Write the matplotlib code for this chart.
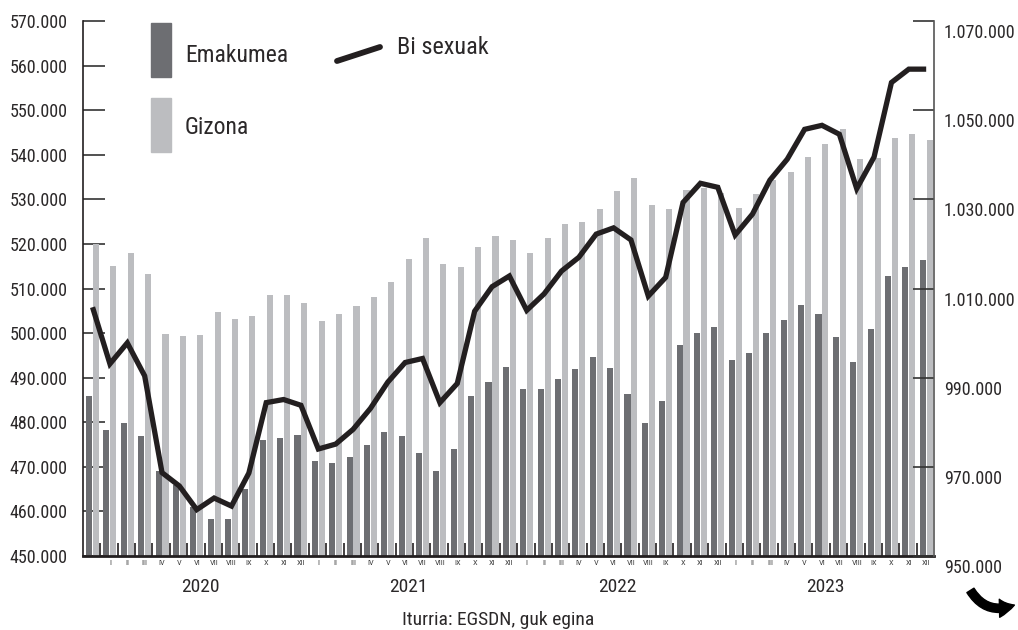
import numpy as np
import matplotlib
matplotlib.use('Agg')
import matplotlib.pyplot as plt
from matplotlib.patches import Rectangle, FancyArrowPatch
from matplotlib.lines import Line2D
from matplotlib.ticker import FuncFormatter
import matplotlib.transforms as mtransforms

plt.rcParams['font.family'] = ['Roboto Condensed', 'PT Sans Narrow', 'Roboto', 'DejaVu Sans']

# Data (thousands of persons), Dec 2019 .. Dec 2023
emakumea = [486.0, 478.3, 479.9, 476.9, 469.1, 466.0, 461.0, 458.4, 458.4, 465.1,
            476.0, 476.5, 477.1, 471.3, 470.9, 472.2, 474.9, 477.8, 476.9, 473.1,
            469.1, 474.0, 485.9, 489.0, 492.4, 487.5, 487.5, 489.7, 491.9, 494.6,
            492.2, 486.3, 479.8, 484.8, 497.3, 500.0, 501.4, 494.0, 495.5, 500.0,
            502.9, 506.3, 504.3, 499.1, 493.5, 500.9, 512.8, 514.8, 516.4]
gizona = [520.0, 515.1, 518.0, 513.3, 499.8, 499.3, 499.6, 504.8, 503.2, 503.8,
          508.5, 508.5, 506.8, 502.7, 504.3, 506.1, 508.1, 511.5, 516.6, 521.3,
          515.5, 514.8, 519.3, 521.8, 520.9, 518.0, 521.3, 524.5, 525.0, 527.8,
          531.9, 534.8, 528.7, 527.8, 532.1, 532.5, 531.4, 528.1, 531.2, 534.3,
          536.1, 539.5, 542.4, 545.8, 539.1, 539.3, 543.8, 544.7, 543.3]
bi_sexuak = [1005.8, 993.1, 997.8, 990.4, 968.7, 965.7, 960.4, 963.0, 961.2, 968.6,
             984.4, 985.1, 983.8, 974.0, 975.1, 978.4, 983.1, 989.0, 993.4, 994.3,
             984.4, 988.7, 1004.9, 1010.4, 1012.8, 1005.1, 1008.8, 1013.9, 1017.0, 1022.2,
             1023.6, 1020.9, 1008.3, 1012.5, 1029.3, 1033.6, 1032.7, 1022.0, 1026.7, 1034.3,
             1039.0, 1045.7, 1046.6, 1044.6, 1032.4, 1039.5, 1056.2, 1059.2, 1059.2]
months = ['I', 'II', 'III', 'IV', 'V', 'VI', 'VII', 'VIII', 'IX', 'X', 'XI', 'XII']
years = ['2020', '2021', '2022', '2023']

dark = '#6d6e72'
light = '#bcbdc0'
black = '#231f20'
txt = '#2b2829'

fig = plt.figure(figsize=(10.18, 6.30), dpi=100)
ax = fig.add_axes([83 / 1018, 74 / 630, 851 / 1018, 535 / 630])

n = len(emakumea)
x = np.arange(n) + 0.05
ax.bar(x - 0.2, emakumea, width=0.35, color=dark, zorder=2)
ax.bar(x + 0.2, gizona, width=0.35, color=light, zorder=2)
ax.set_xlim(-0.5, n - 0.5)
ax.set_ylim(450, 570)
ax.set_yticks(np.arange(450, 571, 10))
ax.yaxis.set_major_formatter(FuncFormatter(lambda v, p: f"{int(round(v * 1000)):,}".replace(',', '.')))
ax.tick_params(axis='y', direction='in', length=16, width=1.2, color='#333333',
               labelsize=13, labelcolor=txt, pad=11)

# slot boundaries as ticks, month names under the bars
ax.set_xticks(np.arange(n - 1) + 0.5)
ax.set_xticklabels([])
ax.tick_params(axis='x', which='major', direction='in', length=9.5, width=1.2, color=black)
ax.set_xticks(x[1:], minor=True)
ax.set_xticklabels(months * len(years), minor=True)
ax.tick_params(axis='x', which='minor', length=0, labelsize=6, labelcolor='#444444', pad=3)

for k, yr in enumerate(years):
    ax.text(12 * k + 6.25, -0.058, yr, transform=ax.get_xaxis_transform(),
            ha='center', va='center', fontsize=14, color=txt)

ax.spines['top'].set_visible(False)
ax.spines['right'].set_visible(False)
ax.spines['left'].set_color(black)
ax.spines['left'].set_linewidth(1.2)
ax.spines['bottom'].set_color(black)
ax.spines['bottom'].set_linewidth(2)

ax2 = ax.twinx()
ax2.plot(x, bi_sexuak, color=black, lw=3.8, solid_joinstyle='miter', solid_capstyle='butt', zorder=3)
ax2.set_ylim(950, 1070)
ax2.set_yticks(np.arange(950, 1071, 20))
ax2.yaxis.set_major_formatter(FuncFormatter(lambda v, p: f"{int(round(v * 1000)):,}".replace(',', '.')))
ax2.tick_params(axis='y', direction='in', length=15, width=1.2, color='#333333',
                labelsize=13, labelcolor=txt, pad=7)
for side in ['top', 'left', 'bottom']:
    ax2.spines[side].set_visible(False)
ax2.spines['right'].set_color('#555555')
ax2.spines['right'].set_linewidth(1.2)
shift = mtransforms.ScaledTranslation(0, -10 / 100, fig.dpi_scale_trans)
for lab in ax2.get_yticklabels():
    lab.set_transform(lab.get_transform() + shift)

# legend drawn by hand
W, H = 1018, 630
fig.patches.append(Rectangle((151 / W, 1 - 77 / H), 20 / W, 54 / H, transform=fig.transFigure,
                             color=dark, figure=fig))
fig.patches.append(Rectangle((151 / W, 1 - 152 / H), 20 / W, 54 / H, transform=fig.transFigure,
                             color=light, figure=fig))
fig.text(185 / W, 1 - 55 / H, 'Emakumea', fontsize=17, color=txt, va='center', ha='left')
fig.text(185 / W, 1 - 128 / H, 'Gizona', fontsize=17, color=txt, va='center', ha='left')
fig.lines.append(Line2D([337 / W, 380 / W], [1 - 61 / H, 1 - 47 / H], transform=fig.transFigure,
                        color=black, lw=4.2, solid_capstyle='round', figure=fig))
fig.text(397 / W, 1 - 48 / H, 'Bi sexuak', fontsize=17.5, color=txt, va='center', ha='left')

fig.text(498 / W, 1 - 620 / H, 'Iturria: EGSDN, guk egina', fontsize=14, color=txt,
         ha='center', va='center')

arrow = FancyArrowPatch((969 / W, 1 - 588 / H), (1017 / W, 1 - 604 / H), transform=fig.transFigure,
                        connectionstyle='arc3,rad=0.45',
                        arrowstyle='simple,head_width=13,head_length=11,tail_width=6',
                        color='black', figure=fig)
fig.patches.append(arrow)

fig.savefig('out.png', dpi=100)
